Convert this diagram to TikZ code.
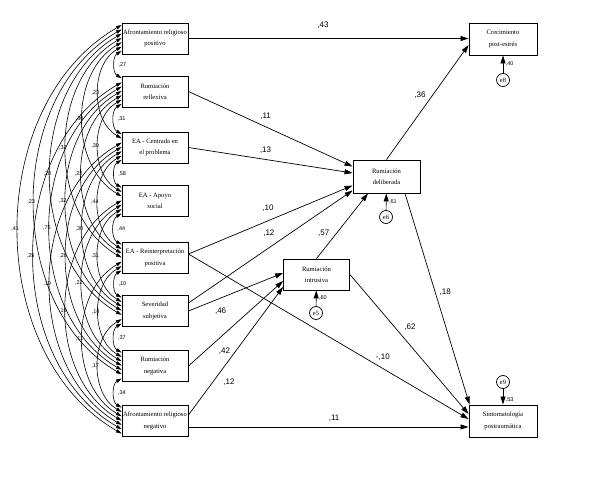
\documentclass[tikz,border=0pt]{standalone}
\usepackage{fontspec}
\setmainfont{Liberation Serif}
\setsansfont{Liberation Sans}
\usetikzlibrary{arrows.meta}

\tikzset{
    var/.style={draw, line width=.9pt, minimum width=66pt, minimum height=31pt,
        inner sep=1pt, align=center, font=\fontsize{6.6}{11.5}\selectfont},
    err/.style={draw, circle, line width=.7pt, minimum size=13pt, inner sep=0pt,
        font=\fontsize{6.5}{6.5}\selectfont},
    reg/.style={line width=.7pt, -{Triangle[length=8pt,width=5pt]}},
    cov/.style={line width=.6pt, {Triangle[length=5.5pt,width=3.5pt]}-{Triangle[length=5.5pt,width=3.5pt]}},
    coef/.style={font=\sffamily\fontsize{8}{8}\selectfont, inner sep=1pt},
    cval/.style={font=\sffamily\fontsize{5.5}{5.5}\selectfont, inner sep=.5pt},
}

\begin{document}
\begin{tikzpicture}[x=1pt, y=-1pt]
    \useasboundingbox (0,0) rectangle (589,486);
    % Predictors
    \node[var] (b1) at (155,38.5) {Afrontamiento religioso\\positivo};
    \node[var] (b2) at (155,91.5) {Rumiación\\reflexiva};
    \node[var] (b3) at (155,147.5) {EA - Centrada en\\el problema};
    \node[var] (b4) at (155,201) {EA - Apoyo\\social};
    \node[var] (b5) at (155,258) {EA - Reinterpretación\\positiva};
    \node[var] (b6) at (155,311) {Severidad\\subjetiva};
    \node[var] (b7) at (155,366) {Rumiación\\negativa};
    \node[var] (b8) at (155,421) {Afrontamiento religioso\\negativo};
    % Mediators and outcomes
    \node[var, minimum width=68pt, minimum height=32pt] (crec) at (503,39) {Crecimiento\\post-estrés};
    \node[var, minimum width=67pt, minimum height=33pt] (delib) at (386.5,176.5) {Rumiación\\deliberada};
    \node[var] (intr) at (316.5,274.5) {Rumiación\\intrusiva};
    \node[var, minimum width=68pt, minimum height=32pt] (sint) at (503,421) {Sintomatología\\postraumática};
    % Errors
    \node[err] (e8) at (503,80) {e8};
    \node[err] (e6) at (386,217) {e6};
    \node[err] (e5) at (316,313) {e5};
    \node[err] (e9) at (503,382) {e9};
    \draw[reg] (e8) -- node[cval, right=2pt] {,40} (crec);
    \draw[reg] (e6) -- node[cval, right=2pt] {,61} (delib);
    \draw[reg] (e5) -- node[cval, right=2pt] {,60} (intr);
    \draw[reg] (e9) -- node[cval, pos=.7, right=2pt] {,53} (sint);
    % Paths
    \draw[reg] (b1.east) -- node[coef, pos=.48, above=9pt] {,43} (b1.east -| crec.west);
    \draw[reg] (b2.east) -- node[coef, pos=.47, above=6pt] {,11} ([yshift=10pt]delib.west);
    \draw[reg] (b3.east) -- node[coef, pos=.47, above=5pt] {,13} ([yshift=3.5pt]delib.west);
    \draw[reg] ([yshift=4pt]b5.east) -- node[coef, pos=.485, above=8pt] {,10} ([yshift=-9pt]delib.west);
    \draw[reg] ([yshift=8pt]b6.east) -- node[coef, pos=.49, above=10pt] {,12} ([yshift=-14pt]delib.west);
    \draw[reg] (b6.east) -- node[coef, pos=.34, below=8pt] {,46} ([yshift=1.5pt]intr.west);
    \draw[reg] (b7.east) -- node[coef, pos=.17, right=13pt] {,42} ([yshift=-6.5pt]intr.west);
    \draw[reg] ([yshift=6pt]b8.east) -- node[coef, pos=.26, right=9pt] {,12} ([yshift=-12.5pt]intr.west);
    \draw[reg] ([yshift=4pt]b5.east) -- node[coef, pos=.694, above=7pt] {-,10} ([yshift=2pt]sint.west);
    \draw[reg] ([yshift=-6pt]b8.east) -- node[coef, pos=.52, above=4pt] {,11} ([yshift=-6pt]sint.west);
    \draw[reg] (intr.north) -- node[coef, pos=.39, left=6pt] {,57} ([xshift=-18.5pt]delib.south);
    \draw[reg] (intr.east) -- node[coef, pos=.38, right=8pt] {,62} ([yshift=7pt]sint.west);
    \draw[reg] (delib.north) -- node[coef, pos=.565, left=6pt] {,36} ([yshift=-6pt]crec.west);
    \draw[reg] ([xshift=18.5pt]delib.south) -- node[coef, pos=.47, right=3pt] {,18} ([xshift=1pt]sint.north west);
    % Covariances
    \foreach \i/\j/\v in {1/2/27,2/3/31,3/4/58,4/5/44,5/6/10,6/7/37,7/8/34}{
        \pgfmathtruncatemacro\si{(\i-1)+(8-\j)}
        \pgfmathtruncatemacro\sj{\j-1-\i}
        \draw[cov] ([yshift={-2.5-\si*4.33}]b\i.north west) to[bend right=60]
            node[cval, right=3pt] {,\v} ([yshift={-2.5-\sj*4.33}]b\j.north west);
    }
    \foreach \i/\j/\v in {1/3/23,1/4/30,1/5/32,1/6/28,1/7/23,1/8/41,
                          2/4/30,2/5/22,2/6/32,2/7/75,2/8/25,
                          3/5/44,3/6/30,3/7/26,3/8/19,
                          4/6/31,4/7/22,4/8/19,
                          5/7/14,5/8/11,6/8/17}{
        \pgfmathtruncatemacro\si{(\i-1)+(8-\j)}
        \pgfmathtruncatemacro\sj{\j-1-\i}
        \draw[cov] ([yshift={-2.5-\si*4.33}]b\i.north west) to[bend right=60]
            node[cval, xshift=-3pt] {,\v} ([yshift={-2.5-\sj*4.33}]b\j.north west);
    }
\end{tikzpicture}
\end{document}
